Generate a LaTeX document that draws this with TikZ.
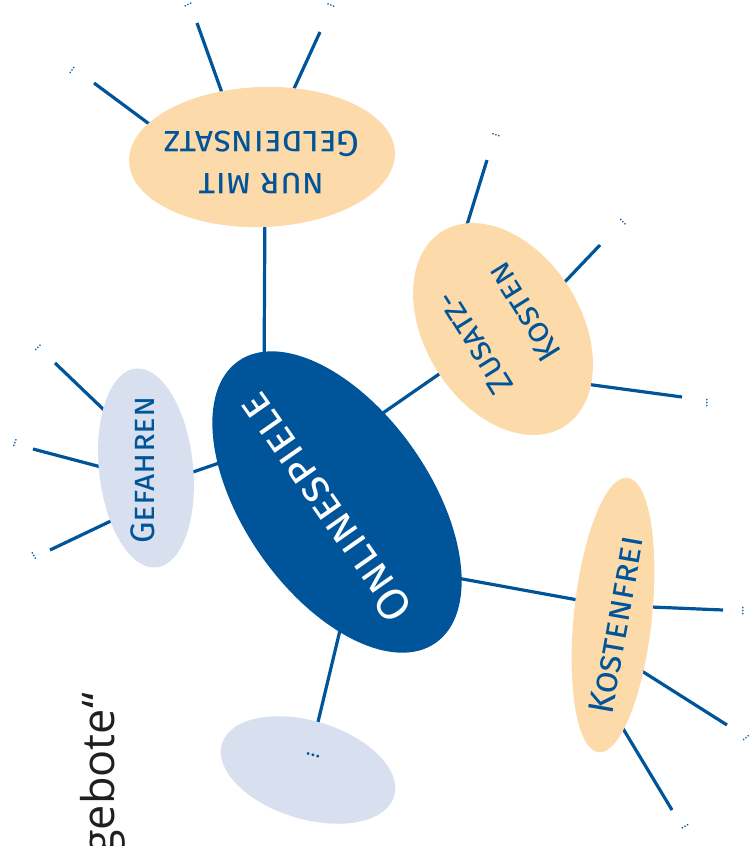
\documentclass[tikz,border=0pt]{standalone}
\usepackage{fontspec}
\newfontfamily\handfont{Fira Sans}
\newfontfamily\bodyfont{Open Sans}
\usetikzlibrary{shapes.geometric,calc,backgrounds}
\definecolor{mmblue}{RGB}{0,84,153}
\definecolor{mmpeach}{RGB}{253,218,170}
\definecolor{mmgrey}{RGB}{216,223,238}
\tikzset{
  conn/.style={draw=mmblue, line width=3.2pt},
  bub/.style={ellipse, inner sep=0pt, outer sep=0pt, draw=none},
  lab/.style={text=mmblue, align=center, inner sep=0pt, font=\handfont\fontsize{34}{41}\selectfont\scshape},
  leafdots/.style={text=mmblue, inner sep=0pt, font=\handfont\fontsize{12}{12}\selectfont},
}
\begin{document}
\begin{tikzpicture}[x=1pt,y=-1pt]
\useasboundingbox (0,0) rectangle (753,846);

% bubbles
\node[bub, fill=mmblue, minimum width=344pt, minimum height=186pt, rotate=125] (c) at (337,502) {};
\node[bub, fill=mmpeach, minimum width=266pt, minimum height=140pt, rotate=2] (top) at (262,157) {};
\node[bub, fill=mmpeach, minimum width=230pt, minimum height=156pt, rotate=122] (zus) at (503,329) {};
\node[bub, fill=mmgrey, minimum width=200pt, minimum height=94pt, rotate=96] (gef) at (146,468) {};
\node[bub, fill=mmpeach, minimum width=276pt, minimum height=78pt, rotate=84] (kf) at (613,615) {};
\node[bub, fill=mmgrey, minimum width=180pt, minimum height=98pt, rotate=-17] (more) at (308,770) {};

% texts
\node[lab, text=white, font=\handfont\fontsize{45}{50}\selectfont\scshape, rotate=125] (ctext) at (325,508) {Onlinespiele};
\node[lab, font=\handfont\fontsize{36}{42}\selectfont\scshape, rotate=180] (toptext) at (262,162) {nur mit\\Geldeinsatz};
\node[lab, rotate=122] (zustext) at (499,328) {Zusatz-\\[18pt]Kosten};
\node[lab, rotate=90] (geftext) at (143,470) {Gefahren};
\node[lab, font=\handfont\fontsize{36}{41}\selectfont\scshape, rotate=80] (kftext) at (616,625) {Kostenfrei};
\node[leafdots, font=\handfont\fontsize{20}{20}\selectfont, rotate=-15] (moretext) at (313,755) {\dots};

% free ends of leaf lines
\coordinate (t1e) at (94,83);
\coordinate (t2e) at (197,23);
\coordinate (t3e) at (320,32);
\coordinate (z1e) at (487,160);
\coordinate (z2e) at (600,245);
\coordinate (z3e) at (682,397);
\coordinate (g1e) at (55,363);
\coordinate (g2e) at (33,449);
\coordinate (g3e) at (50,550);
\coordinate (k1e) at (723,610);
\coordinate (k2e) at (727,725);
\coordinate (k3e) at (672,810);

% leaf dots
\node[leafdots, rotate=55] (t1d) at (72,70) {\dots};
\node[leafdots, rotate=25] (t2d) at (188,5) {\dots};
\node[leafdots, rotate=-22] (t3d) at (331,6) {\dots};
\node[leafdots, rotate=-18] (z1d) at (496,135) {\dots};
\node[leafdots, rotate=-45] (z2d) at (623,222) {\dots};
\node[leafdots, rotate=90] (z3d) at (707,403) {\dots};
\node[leafdots, rotate=45] (g1d) at (38,348) {\dots};
\node[leafdots, rotate=70] (g2d) at (15,443) {\dots};
\node[leafdots, rotate=-60] (g3d) at (34,556) {\dots};
\node[leafdots, rotate=90] (k1d) at (743,611) {\dots};
\node[leafdots, rotate=40] (k2d) at (746,738) {\dots};
\node[leafdots, rotate=30] (k3d) at (685,827) {\dots};

% title fragment
\node[font=\bodyfont\fontsize{45}{50}\selectfont, text=black!88, rotate=90, anchor=base east, inner sep=0pt] (geb) at (114,693) {gebote“};

\begin{scope}[on background layer]
  \draw[conn] ($(c)+(-73,-122)$) -- ($(top)+(3,43)$);
  \draw[conn] ($(c)+(26.6,-75.6)$) -- ($(zus)+(-41.6,29.6)$);
  \draw[conn] ($(c)+(-96.1,-46.5)$) -- ($(gef)+(32.8,8.9)$);
  \draw[conn] ($(c)+(100.3,72.4)$) -- ($(kf)+(-20.2,-12.3)$);
  \draw[conn] ($(c)+(7.7,108.6)$) -- ($(more)+(6.5,-33.4)$);

  \draw[conn] ($(top)+(-106,-28)$) -- (t1e);
  \draw[conn] ($(top)+(-36,-53)$) -- (t2e);
  \draw[conn] ($(top)+(25,-53)$) -- (t3e);

  \draw[conn] ($(zus)+(-40.5,-89.7)$) -- (z1e);
  \draw[conn] ($(zus)+(46.6,-31.1)$) -- (z2e);
  \draw[conn] ($(zus)+(75.1,54)$) -- (z3e);

  \draw[conn] ($(gef)+(-33.2,-49.6)$) -- (g1e);
  \draw[conn] ($(gef)+(-30.5,2.8)$) -- (g2e);
  \draw[conn] ($(gef)+(-19.5,45.6)$) -- (g3e);

  \draw[conn] ($(kf)+(24,-8.6)$) -- (k1e);
  \draw[conn] ($(kf)+(19.3,50)$) -- (k2e);
  \draw[conn] ($(kf)+(4.3,104.1)$) -- (k3e);
\end{scope}
\end{tikzpicture}
\end{document}
